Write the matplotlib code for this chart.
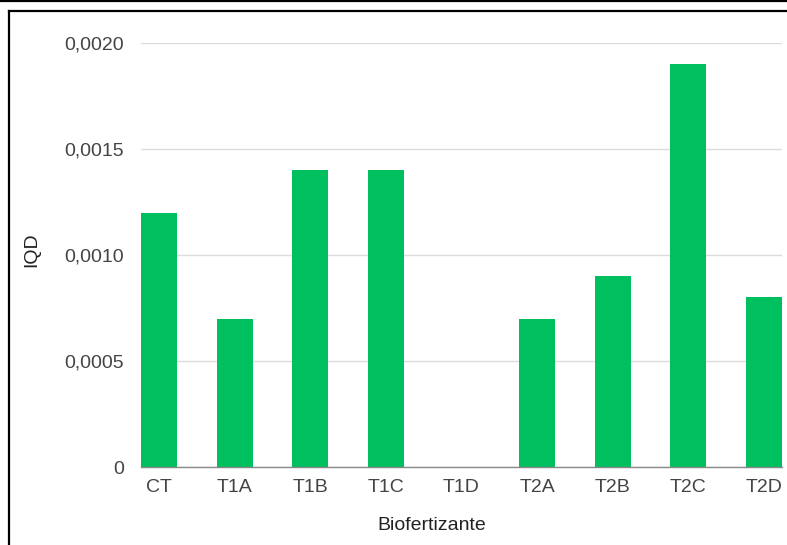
import matplotlib.pyplot as plt
from matplotlib.lines import Line2D

plt.rcParams['font.family'] = ['Liberation Sans', 'DejaVu Sans']

# data
tratamentos = ['CT', 'T1A', 'T1B', 'T1C', 'T1D', 'T2A', 'T2B', 'T2C', 'T2D']
iqd = [0.0012, 0.0007, 0.0014, 0.0014, 0.0, 0.0007, 0.0009, 0.0019, 0.0008]
yticks = [0, 0.0005, 0.0010, 0.0015, 0.0020]
ytick_labels = ['0', '0,0005', '0,0010', '0,0015', '0,0020']

W, H = 787, 545
fig = plt.figure(figsize=(W / 100, H / 100), dpi=100)

# axes placed in pixel terms of the screenshot
left, right, top, bottom = 141, 782, 43, 467
ax = fig.add_axes([left / W, 1 - bottom / H, (right - left) / W, (bottom - top) / H])

bw = 0.48
x = range(len(tratamentos))
ax.bar(x, iqd, width=bw, color='#00BF5F', zorder=3)

ax.set_xlim(-bw / 2, len(tratamentos) - 1 + bw / 2)
ax.set_ylim(0, 0.0020)
ax.set_yticks(yticks)
ax.set_yticklabels(ytick_labels)
ax.set_xticks(list(x))
ax.set_xticklabels(tratamentos)
ax.tick_params(axis='y', length=0, pad=12, labelsize=14, labelcolor='#444444')
ax.tick_params(axis='x', length=0, pad=9, labelsize=14, labelcolor='#444444')

ax.grid(axis='y', color='#dcdcdc', linewidth=1, zorder=0)
for s in ['top', 'right', 'left']:
    ax.spines[s].set_visible(False)
ax.spines['bottom'].set_color('#888888')
ax.spines['bottom'].set_linewidth(1)
ax.spines['bottom'].set_zorder(4)

fig.text(432 / W, 1 - 525 / H, 'Biofertizante', ha='center', va='center',
         fontsize=14, color='#222222')
fig.text(32 / W, 1 - 250 / H, 'IQD', ha='center', va='center', rotation=90,
         fontsize=14, color='#222222')

# screenshot frame lines
fig.add_artist(Line2D([0, 1], [1 - 1 / H, 1 - 1 / H], color='black', linewidth=1.6))
fig.add_artist(Line2D([9 / W, 1], [1 - 11 / H, 1 - 11 / H], color='black', linewidth=1.6))
fig.add_artist(Line2D([9 / W, 9 / W], [0, 1 - 11 / H], color='black', linewidth=1.6))

fig.savefig('out.png', dpi=100)
